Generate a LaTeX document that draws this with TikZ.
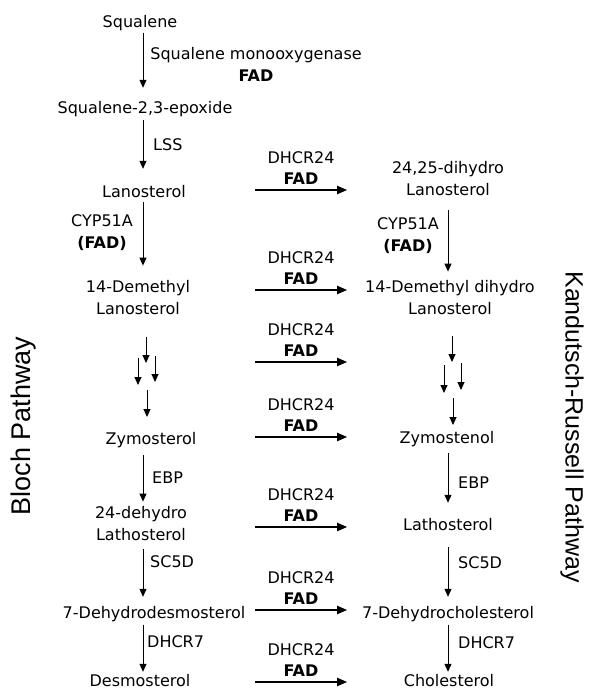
\documentclass[tikz,border=0pt]{standalone}
\usepackage{fontspec}
\setmainfont{DejaVu Sans}
\newfontfamily\pathfont{Liberation Sans}
\usepackage{tikz}
\usetikzlibrary{arrows.meta,positioning}

\begin{document}
\begin{tikzpicture}[
  x=1pt, y=-1pt,
  font=\fontsize{16}{22}\selectfont,
  met/.style={inner sep=0pt, text height=12pt, text depth=4pt},
  met2/.style={inner sep=0pt, align=center},
  enz/.style={inner sep=0pt, anchor=west},
  cofac/.style={inner sep=0pt, align=center},
  dhlabel/.style={inner xsep=0pt, inner ysep=5pt, minimum width=92pt, align=center, anchor=south, font=\fontsize{16}{21}\selectfont},
  rxn/.style={line width=1pt, -{Triangle[length=8pt,width=7pt]}},
  dhrxn/.style={line width=2pt, -{Triangle[length=10pt,width=8pt]}},
  pathway/.style={inner sep=0pt, font=\pathfont\fontsize{27}{30}\selectfont}
]
\useasboundingbox (0,0) rectangle (595,692);

% Columns
\coordinate (colL) at (143,0);
\coordinate (colR) at (448,0);

% Bloch pathway
\node[met] (sq) at (140,24) {Squalene};
\node[met] (ep) at (145,110) {Squalene-2,3-epoxide};
\node[met] (lan) at (144,194) {Lanosterol};
\node[met2] (dml) at (138,298) {14-Demethyl\\Lanosterol};
\node[met] (zym) at (151,440) {Zymosterol};
\node[met2] (dhl) at (141,524) {24-dehydro\\Lathosterol};
\node[met] (dds) at (154,614) {7-Dehydrodesmosterol};
\node[met] (des) at (140,682) {Desmosterol};

% Kandutsch-Russell pathway
\node[met2] (dhlan) at (448,179) {24,25-dihydro\\Lanosterol};
\node[met2] (dmdl) at (450,298) {14-Demethyl dihydro\\Lanosterol};
\node[met] (zymn) at (447,439) {Zymostenol};
\node[met] (lath) at (448,526) {Lathosterol};
\node[met] (dhc) at (448,614) {7-Dehydrocholesterol};
\node[met] (chol) at (449,682) {Cholesterol};

% Enzymes
\node[cofac] (smo) at (256,64) {Squalene monooxygenase\\\textbf{FAD}};
\node[enz] (lss) at (153,145) {LSS};
\node[cofac] (cypL) at (102,233) {CYP51A\\\textbf{(FAD)}};
\node[cofac] (cypR) at (408,236) {CYP51A\\\textbf{(FAD)}};
\node[enz] (ebpL) at (152,478) {EBP};
\node[enz] (ebpR) at (458,483) {EBP};
\node[enz] (scL) at (150,562) {SC5D};
\node[enz] (scR) at (458,563) {SC5D};
\node[enz] (dh7L) at (147,642) {DHCR7};
\node[enz] (dh7R) at (458,643) {DHCR7};

% Left steps
\draw[rxn, shorten <=1pt, shorten >=14pt] (sq.south -| colL) -- (ep.north -| colL);
\draw[rxn, shorten <=2pt, shorten >=17pt] (ep.south -| colL) -- (lan.north -| colL);
\draw[rxn, shorten <=0pt, shorten >=15pt] (lan.south -| colL) -- (dml.north -| colL);
\draw[rxn, shorten <=7pt, shorten >=5pt] (zym.south -| colL) -- (dhl.north -| colL);
\draw[rxn, shorten <=8pt, shorten >=9pt] (dhl.south -| colL) -- (dds.north -| colL);
\draw[rxn, shorten <=3pt, shorten >=2pt] (dds.south -| colL) -- (des.north -| colL);

% Right steps
\draw[rxn, shorten <=14pt, shorten >=9pt] (dhlan.south -| colR) -- (dmdl.north -| colR);
\draw[rxn, shorten <=6pt, shorten >=15pt] (zymn.south -| colR) -- (lath.north -| colR);
\draw[rxn, shorten <=13pt, shorten >=9pt] (lath.south -| colR) -- (dhc.north -| colR);
\draw[rxn, shorten <=3pt, shorten >=2pt] (dhc.south -| colR) -- (chol.north -| colR);

% Several steps
\coordinate (multiL) at (146,337);
\coordinate (multiR) at (452,336);
\draw[rxn] (multiL) -- ++(0,26);
\draw[rxn] ([xshift=-8pt,yshift=-21pt]multiL) -- ++(0,27);
\draw[rxn] ([xshift=9pt,yshift=-19pt]multiL) -- ++(0,26);
\draw[rxn] ([xshift=1pt,yshift=-53pt]multiL) -- ++(0,27);
\draw[rxn] (multiR) -- ++(0,26);
\draw[rxn] ([xshift=-8pt,yshift=-29pt]multiR) -- ++(0,28);
\draw[rxn] ([xshift=9pt,yshift=-27pt]multiR) -- ++(0,27);
\draw[rxn] ([xshift=1pt,yshift=-62pt]multiR) -- ++(0,27);

% DHCR24 side reactions
\node[dhlabel] (dhA) at (301,190) {DHCR24\\\textbf{FAD}};
\node[dhlabel] (dhB) at (301,290) {DHCR24\\\textbf{FAD}};
\node[dhlabel] (dhC) at (301,362) {DHCR24\\\textbf{FAD}};
\node[dhlabel] (dhD) at (301,437) {DHCR24\\\textbf{FAD}};
\node[dhlabel] (dhE) at (301,527) {DHCR24\\\textbf{FAD}};
\node[dhlabel] (dhF) at (301,610) {DHCR24\\\textbf{FAD}};
\node[dhlabel] (dhG) at (301,682) {DHCR24\\\textbf{FAD}};
\draw[dhrxn] (dhA.south west) -- (dhA.south east);
\draw[dhrxn] (dhB.south west) -- (dhB.south east);
\draw[dhrxn] (dhC.south west) -- (dhC.south east);
\draw[dhrxn] (dhD.south west) -- (dhD.south east);
\draw[dhrxn] (dhE.south west) -- (dhE.south east);
\draw[dhrxn] (dhF.south west) -- (dhF.south east);
\draw[dhrxn] (dhG.south west) -- (dhG.south east);

% Pathway names
\node[pathway, rotate=90] (bloch) at (24,426) {Bloch Pathway};
\node[pathway, rotate=-90, font=\pathfont\fontsize{25}{30}\selectfont] (kr) at (572,427) {Kandutsch-Russell Pathway};

\end{tikzpicture}
\end{document}
